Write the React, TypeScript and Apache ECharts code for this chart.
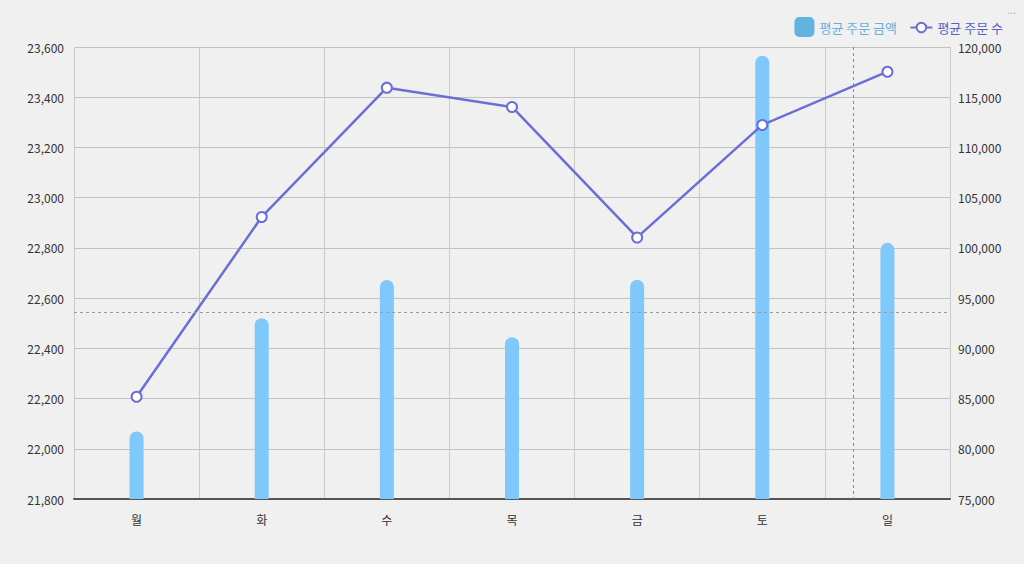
import React, { useEffect, useRef } from "react";
import * as echarts from "echarts";

const categories = ["월", "화", "수", "목", "금", "토", "일"];
const avgOrderAmount = [22069, 22520, 22672, 22444, 22673, 23565, 22820];
const avgOrderCount = [85185, 103080, 115950, 114030, 101040, 112240, 117540];
const leftTicks = { min: 21800, max: 23600, interval: 200 };
const rightTicks = { min: 75000, max: 120000, interval: 5000 };

const FONT = '"Noto Sans CJK KR", "Noto Sans", sans-serif';
const BAR_COLOR = "#7ec8fb";
const LINE_COLOR = "#6a6fd6";

export default function App() {
  const ref = useRef<HTMLDivElement>(null);
  useEffect(() => {
    document.body.style.margin = "0";
    document.body.style.background = "#f0f0f0";
    const chart = echarts.init(ref.current!, undefined, { renderer: "svg" });
    const fmt = (v: number) => v.toLocaleString("en-US");
    chart.setOption({
      animation: false,
      backgroundColor: "#f0f0f0",
      textStyle: { fontFamily: FONT },
      grid: { left: 74, right: 74, top: 47, bottom: 65, containLabel: false },
      legend: [
        {
          right: 122,
          top: 12,
          itemWidth: 20,
          itemHeight: 20,
          textStyle: { fontFamily: FONT, fontSize: 13 },
          data: [
            {
              name: "평균 주문 금액",
              icon: "roundRect",
              itemStyle: { color: "#62b4e0" },
              textStyle: { color: "#6aaedc" },
            },
          ],
        },
        {
          right: 16,
          top: 16,
          itemWidth: 22,
          itemHeight: 12,
          textStyle: { fontFamily: FONT, fontSize: 13 },
          data: [
            {
              name: "평균 주문 수",
              textStyle: { color: "#5a5fc4" },
            },
          ],
        },
      ],
      xAxis: {
        type: "category",
        data: categories,
        axisLine: { lineStyle: { color: "#555", width: 2 } },
        axisTick: { show: false },
        axisLabel: { color: "#333", fontSize: 12, margin: 14, fontFamily: FONT },
        splitLine: { show: true, lineStyle: { color: "#cacaca", width: 1 } },
      },
      yAxis: [
        {
          type: "value",
          min: leftTicks.min,
          max: leftTicks.max,
          interval: leftTicks.interval,
          axisLine: { show: false },
          axisTick: { show: false },
          axisLabel: { color: "#333", fontSize: 12, margin: 10, formatter: fmt, fontFamily: FONT },
          splitLine: { lineStyle: { color: "#c2c2c2", width: 1 } },
        },
        {
          type: "value",
          min: rightTicks.min,
          max: rightTicks.max,
          interval: rightTicks.interval,
          axisLine: { show: false },
          axisTick: { show: false },
          axisLabel: { color: "#333", fontSize: 12, margin: 8, formatter: fmt, fontFamily: FONT },
          splitLine: { show: false },
        },
      ],
      series: [
        {
          name: "평균 주문 금액",
          type: "bar",
          yAxisIndex: 0,
          data: avgOrderAmount,
          barWidth: 14,
          itemStyle: { color: BAR_COLOR, borderRadius: [7, 7, 0, 0] },
        },
        {
          name: "평균 주문 수",
          type: "line",
          yAxisIndex: 1,
          data: avgOrderCount,
          symbol: "circle",
          symbolSize: 10,
          lineStyle: { color: LINE_COLOR, width: 2.5 },
          itemStyle: { color: "#ffffff", borderColor: LINE_COLOR, borderWidth: 2 },
        },
      ],
      graphic: [
        {
          type: "line",
          shape: { x1: 853.5, y1: 47, x2: 853.5, y2: 499 },
          style: { stroke: "#8a8a8a", lineWidth: 1, lineDash: [3, 3] },
          z: 10,
        },
        {
          type: "line",
          shape: { x1: 74, y1: 312.5, x2: 950, y2: 312.5 },
          style: { stroke: "#9a9a9a", lineWidth: 1, lineDash: [3, 3] },
          z: 10,
        },
        {
          type: "text",
          right: 8,
          top: 3,
          style: { text: "...", fill: "#aab4c8", fontSize: 11, fontFamily: FONT },
        },
      ],
    });
    return () => chart.dispose();
  }, []);
  return <div ref={ref} style={{ width: 1024, height: 564, background: "#f0f0f0" }} />;
}
